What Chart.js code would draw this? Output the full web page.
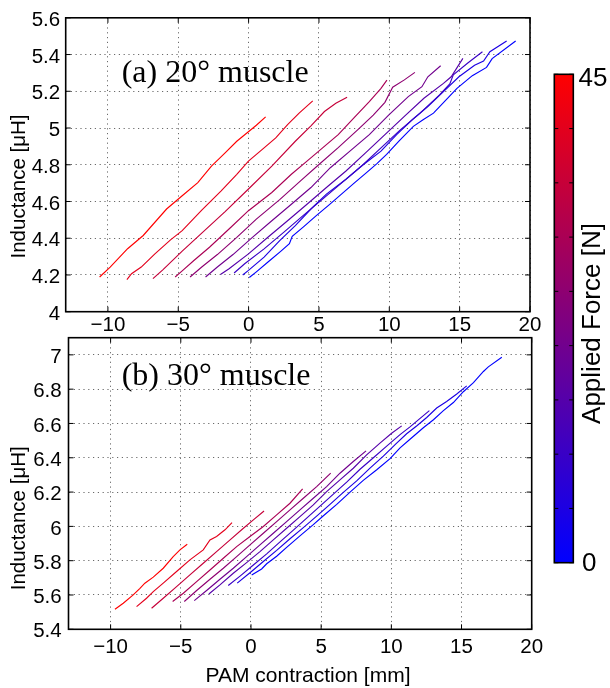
<!DOCTYPE html>
<html><head><meta charset="utf-8">
<script src="https://cdn.jsdelivr.net/npm/chart.js@4"></script>
<style>
html,body{margin:0;padding:0;background:#fff;}
#wrap{position:relative;width:610px;height:688px;overflow:hidden;}
canvas{position:absolute;left:0;top:0;}
</style></head><body>
<div id="wrap">
<canvas id="cA" width="610" height="688"></canvas>
<canvas id="cB" width="610" height="688"></canvas>
<canvas id="cC" width="610" height="688"></canvas>
</div>
<script>
// ---------- data ----------
const forces = [45, 40, 35, 30, 25, 20, 15, 10, 5, 0];
const xTicks = [-10, -5, 0, 5, 10, 15, 20];
const xMin = -13, xMax = 20;
const yTicksA = [4, 4.2, 4.4, 4.6, 4.8, 5, 5.2, 5.4, 5.6];
const yMinA = 4, yMaxA = 5.6;
const yTicksB = [5.4, 5.6, 5.8, 6, 6.2, 6.4, 6.6, 6.8, 7];
const yMinB = 5.4, yMaxB = 7.1;
const cbTicks = [0, 5, 10, 15, 20, 25, 30, 35, 40, 45];
const cbLabels = ['0', '45'];

// (a) 20° muscle : [contraction mm, inductance µH]
const a20_F45 = [[-10.59,4.189],[-9.84,4.243],[-8.60,4.343],[-7.49,4.415],[-5.83,4.559],[-4.72,4.631],[-3.61,4.703],[-2.64,4.793],[-1.67,4.865],[-0.84,4.928],[0.55,5.015],[1.21,5.061]];
const a20_F40 = [[-8.65,4.175],[-8.32,4.207],[-7.63,4.243],[-6.66,4.315],[-5.55,4.391],[-4.72,4.441],[-3.33,4.553],[-1.95,4.658],[-0.84,4.748],[-0.01,4.82],[1.10,4.892],[1.93,4.946],[2.77,5.018],[3.59,5.081],[4.56,5.148]];
const a20_F35 = [[-6.80,4.180],[-6.10,4.228],[-4.72,4.330],[-3.33,4.428],[-1.67,4.545],[-0.01,4.668],[1.65,4.792],[3.32,4.928],[4.43,5.012],[5.39,5.090],[6.20,5.135],[7.00,5.168]];
const a20_F30 = [[-5.22,4.189],[-4.72,4.222],[-3.89,4.279],[-2.78,4.351],[-1.39,4.45],[-0.01,4.55],[1.65,4.649],[3.04,4.748],[4.15,4.82],[5.26,4.892],[6.37,4.964],[7.47,5.054],[8.58,5.144],[9.41,5.216],[9.83,5.261]];
const a20_F25 = [[-4.16,4.189],[-3.33,4.243],[-2.22,4.311],[-0.84,4.405],[0.55,4.504],[2.21,4.610],[3.73,4.715],[4.98,4.800],[6.37,4.893],[7.75,4.990],[8.86,5.070],[9.69,5.140],[10.24,5.222],[11.07,5.262],[11.82,5.303]];
const a20_F20 = [[-3.06,4.189],[-2.22,4.243],[-1.11,4.311],[0.27,4.405],[1.65,4.495],[3.04,4.585],[4.43,4.676],[5.81,4.784],[7.20,4.874],[8.58,4.964],[9.97,5.072],[11.35,5.171],[12.32,5.225],[12.74,5.279],[13.65,5.339]];
const a20_F15 = [[-2.00,4.202],[-1.39,4.234],[-0.01,4.315],[1.37,4.405],[2.77,4.495],[4.15,4.585],[5.53,4.676],[6.92,4.766],[8.31,4.865],[9.69,4.964],[11.07,5.063],[12.46,5.162],[13.85,5.243],[14.40,5.279],[15.23,5.379]];
const a20_F10 = [[-1.03,4.211],[-0.28,4.261],[1.10,4.342],[2.49,4.432],[3.87,4.523],[5.26,4.613],[6.64,4.703],[8.03,4.793],[9.41,4.892],[10.80,4.991],[12.19,5.081],[13.57,5.18],[14.30,5.240],[14.55,5.290],[15.60,5.355],[16.62,5.415]];
const a20_F5  = [[-0.42,4.200],[-0.01,4.225],[1.10,4.297],[2.21,4.387],[3.32,4.469],[4.43,4.559],[5.53,4.64],[6.92,4.721],[8.03,4.793],[9.41,4.874],[10.52,4.964],[11.63,5.045],[12.74,5.117],[13.85,5.198],[14.95,5.279],[16.06,5.342],[16.70,5.365],[17.15,5.415],[18.34,5.474]];
const a20_F0  = [[0.05,4.186],[0.55,4.217],[1.40,4.272],[2.30,4.330],[2.90,4.370],[3.10,4.410],[3.90,4.462],[4.81,4.523],[5.70,4.580],[6.60,4.640],[7.50,4.700],[8.38,4.757],[9.10,4.805],[9.81,4.856],[10.70,4.930],[11.71,5.009],[12.40,5.045],[13.14,5.081],[14.00,5.150],[14.81,5.216],[15.90,5.285],[16.91,5.330],[17.31,5.378],[18.98,5.474]];

// (b) 30° muscle
const b30_F45 = [[-9.69,5.517],[-9.10,5.552],[-8.39,5.601],[-7.91,5.639],[-7.56,5.669],[-6.96,5.704],[-6.25,5.756],[-5.54,5.824],[-5.06,5.863],[-4.54,5.896]];
const b30_F40 = [[-8.15,5.532],[-7.44,5.581],[-6.96,5.62],[-6.25,5.669],[-5.30,5.737],[-4.35,5.805],[-3.40,5.863],[-2.92,5.921],[-2.45,5.941],[-1.85,5.980],[-1.35,6.022]];
const b30_F35 = [[-7.08,5.523],[-6.25,5.581],[-5.30,5.649],[-4.35,5.717],[-3.40,5.785],[-2.45,5.853],[-1.49,5.921],[-0.54,5.989],[0.17,6.038],[0.93,6.090]];
const b30_F30 = [[-5.58,5.562],[-4.82,5.61],[-3.87,5.678],[-2.92,5.746],[-1.97,5.814],[-1.02,5.882],[-0.07,5.941],[0.88,5.999],[1.83,6.067],[2.78,6.135],[3.68,6.219]];
const b30_F25 = [[-4.75,5.562],[-3.87,5.626],[-2.92,5.692],[-1.97,5.756],[-1.02,5.824],[-0.07,5.892],[0.88,5.960],[1.83,6.028],[2.78,6.096],[3.73,6.164],[4.68,6.232],[5.68,6.310]];
const b30_F20 = [[-4.04,5.567],[-3.16,5.626],[-2.21,5.692],[-1.26,5.756],[-0.31,5.824],[0.64,5.892],[1.59,5.960],[2.54,6.028],[3.49,6.096],[4.44,6.164],[5.39,6.232],[6.34,6.31],[7.29,6.378],[8.20,6.440]];
const b30_F15 = [[-3.00,5.606],[-2.21,5.659],[-1.26,5.727],[-0.31,5.789],[0.64,5.853],[1.59,5.921],[2.54,5.989],[3.49,6.057],[4.44,6.125],[5.39,6.203],[6.34,6.271],[7.29,6.339],[8.24,6.417],[9.19,6.485],[10.02,6.543],[10.74,6.586]];
const b30_F10 = [[-1.62,5.655],[-0.78,5.710],[0.17,5.775],[1.12,5.840],[2.07,5.910],[3.02,5.978],[3.97,6.048],[4.92,6.118],[5.87,6.188],[6.82,6.258],[7.77,6.333],[8.72,6.400],[9.67,6.468],[10.62,6.535],[11.33,6.580],[12.05,6.630],[12.71,6.675]];
const b30_F5  = [[-0.98,5.669],[-0.07,5.730],[0.88,5.795],[1.83,5.860],[2.78,5.928],[3.73,5.993],[4.68,6.060],[5.63,6.128],[6.58,6.198],[7.53,6.265],[8.48,6.340],[9.43,6.410],[10.38,6.485],[11.09,6.540],[11.80,6.585],[12.52,6.635],[13.23,6.690],[13.94,6.728],[14.66,6.772],[15.37,6.819]];
const b30_F0  = [[0.05,5.717],[0.76,5.752],[1.12,5.782],[1.83,5.826],[2.54,5.878],[3.49,5.945],[4.44,6.010],[5.16,6.062],[6.11,6.128],[7.06,6.200],[8.00,6.268],[8.96,6.330],[9.91,6.395],[10.62,6.458],[11.33,6.508],[12.28,6.575],[13.00,6.622],[13.71,6.675],[14.42,6.722],[15.13,6.785],[15.85,6.838],[16.56,6.903],[16.91,6.930],[17.87,6.986]];

const curvesA = [a20_F45, a20_F40, a20_F35, a20_F30, a20_F25, a20_F20, a20_F15, a20_F10, a20_F5, a20_F0];
const curvesB = [b30_F45, b30_F40, b30_F35, b30_F30, b30_F25, b30_F20, b30_F15, b30_F10, b30_F5, b30_F0];

// ---------- style ----------
const SANS = '"Liberation Sans", Arial, Helvetica, sans-serif';
const SERIF = '"Liberation Serif", "Times New Roman", serif';
const fMax = 45;
function forceColor(F) {
  const t = F / fMax;
  return 'rgb(' + Math.round(255 * t) + ',0,' + Math.round(255 * (1 - t)) + ')';
}
function fmtX(v) { return v < 0 ? '\u2212' + Math.abs(v) : String(v); }
function fmtY(v) { return String(Number(v.toFixed(1))); }

function framePlugin(o) {
  return {
    id: 'frame' + o.name,
    afterDraw(chart) {
      const ctx = chart.ctx, a = chart.chartArea, x = chart.scales.x, y = chart.scales.y;
      ctx.save();
      ctx.strokeStyle = '#000';
      ctx.lineWidth = 1;
      ctx.beginPath();
      xTicks.forEach(v => {
        const px = x.getPixelForValue(v);
        ctx.moveTo(px, a.bottom); ctx.lineTo(px, a.bottom - 5);
        ctx.moveTo(px, a.top); ctx.lineTo(px, a.top + 5);
      });
      o.yTicks.forEach(v => {
        const py = y.getPixelForValue(v);
        ctx.moveTo(a.left, py); ctx.lineTo(a.left + 5, py);
        ctx.moveTo(a.right, py); ctx.lineTo(a.right - 5, py);
      });
      ctx.stroke();
      ctx.lineWidth = 1.6;
      ctx.strokeRect(a.left, a.top, a.right - a.left, a.bottom - a.top);
      ctx.fillStyle = '#000';
      ctx.font = '32px ' + SERIF;
      ctx.textAlign = 'left'; ctx.textBaseline = 'alphabetic';
      ctx.fillText(o.panel, o.panelX, o.panelY);
      if (o.xTitle) {
        ctx.font = '21px ' + SANS;
        ctx.textAlign = 'center'; ctx.textBaseline = 'middle';
        ctx.fillText(o.xTitle, o.xTitleX, o.xTitleY);
      }
      ctx.font = '20.5px ' + SANS;
      ctx.textAlign = 'center'; ctx.textBaseline = 'middle';
      ctx.translate(o.yTitleX, o.yTitleY);
      ctx.rotate(-Math.PI / 2);
      ctx.fillText(o.yTitle, 0, 0);
      ctx.restore();
    }
  };
}

function makePanel(id, curves, o) {
  return new Chart(document.getElementById(id), {
    type: 'scatter',
    data: {
      datasets: curves.map((pts, i) => ({
        label: forces[i] + ' N',
        data: pts.map(p => ({ x: p[0], y: p[1] })),
        showLine: true,
        borderColor: forceColor(forces[i]),
        backgroundColor: forceColor(forces[i]),
        borderWidth: 1.15,
        pointRadius: 0,
        tension: 0,
        fill: false
      }))
    },
    options: {
      responsive: false, animation: false, events: [],
      layout: { padding: { left: 0, top: o.top, right: 610 - o.right, bottom: o.padBottom } },
      plugins: { legend: { display: false }, tooltip: { enabled: false } },
      scales: {
        x: {
          type: 'linear', min: xMin, max: xMax,
          afterBuildTicks: s => { s.ticks = xTicks.map(v => ({ value: v })); },
          afterFit: s => { s.height = o.xAxisH; },
          grid: { color: 'rgba(90,90,90,0.9)', lineWidth: 1, drawTicks: false },
          border: { display: false, dash: [1.2, 3.6] },
          ticks: { color: '#000', font: { family: SANS, size: 20.5 }, padding: o.xPad, maxRotation: 0, autoSkip: false, callback: v => fmtX(v) }
        },
        y: {
          type: 'linear', min: o.yMin, max: o.yMax,
          afterBuildTicks: s => { s.ticks = o.yTicks.map(v => ({ value: v })); },
          afterFit: s => { s.width = o.left; },
          grid: { color: 'rgba(90,90,90,0.9)', lineWidth: 1, drawTicks: false },
          border: { display: false, dash: [1.2, 3.6] },
          ticks: { color: '#000', font: { family: SANS, size: 20.5 }, padding: o.yPad, labelOffset: 2.5, autoSkip: false, callback: v => fmtY(v) }
        }
      }
    },
    plugins: [framePlugin(o)]
  });
}

makePanel('cA', curvesA, {
  name: 'A', left: 65.7, right: 530, top: 15.7, xAxisH: 30, padBottom: 688 - 311.7 - 30,
  xPad: 1, yPad: 5.5, yMin: yMinA, yMax: yMaxA, yTicks: yTicksA,
  panel: '(a) 20\u00B0 muscle', panelX: 121.7, panelY: 81.7,
  yTitle: 'Inductance [\u03BCH]', yTitleX: 19.3, yTitleY: 186.5
});

makePanel('cB', curvesB, {
  name: 'B', left: 68.5, right: 531.7, top: 337.7, xAxisH: 688 - 629.3, padBottom: 0,
  xPad: 5.5, yPad: 6.8, yMin: yMinB, yMax: yMaxB, yTicks: yTicksB,
  panel: '(b) 30\u00B0 muscle', panelX: 121.7, panelY: 385,
  yTitle: 'Inductance [\u03BCH]', yTitleX: 19.3, yTitleY: 518.3,
  xTitle: 'PAM contraction [mm]', xTitleX: 308, xTitleY: 676.7
});

// ---------- colorbar ----------
const colorbarPlugin = {
  id: 'colorbarFrame',
  afterDraw(chart) {
    const ctx = chart.ctx, a = chart.chartArea, y = chart.scales.y;
    ctx.save();
    ctx.strokeStyle = '#000';
    ctx.lineWidth = 1;
    ctx.beginPath();
    cbTicks.forEach(v => {
      const py = y.getPixelForValue(v);
      ctx.moveTo(a.left, py); ctx.lineTo(a.left + 4, py);
      ctx.moveTo(a.right, py); ctx.lineTo(a.right - 4, py);
    });
    ctx.stroke();
    ctx.lineWidth = 1.6;
    ctx.strokeRect(a.left, a.top, a.right - a.left, a.bottom - a.top);
    ctx.fillStyle = '#000';
    ctx.font = '26px ' + SANS;
    ctx.textAlign = 'left'; ctx.textBaseline = 'middle';
    ctx.fillText(cbLabels[1], 578.5, y.getPixelForValue(fMax) + 4.5);
    ctx.fillText(cbLabels[0], 582, y.getPixelForValue(0) + 1);
    ctx.textAlign = 'center'; ctx.textBaseline = 'alphabetic';
    ctx.translate(600.3, 323.5);
    ctx.rotate(-Math.PI / 2);
    ctx.fillText('Applied Force [N]', 0, 0);
    ctx.restore();
  }
};

new Chart(document.getElementById('cC'), {
  type: 'bar',
  data: {
    labels: ['Applied Force'],
    datasets: [{
      data: [fMax],
      backgroundColor: c => {
        const a = c.chart.chartArea;
        if (!a) return 'rgb(128,0,128)';
        const g = c.chart.ctx.createLinearGradient(0, a.bottom, 0, a.top);
        g.addColorStop(0, forceColor(0));
        g.addColorStop(1, forceColor(fMax));
        return g;
      },
      borderWidth: 0,
      barPercentage: 1,
      categoryPercentage: 1
    }]
  },
  options: {
    responsive: false, animation: false, events: [],
    layout: { padding: { left: 554.3, right: 610 - 573.3, top: 74.3, bottom: 688 - 562.7 } },
    plugins: { legend: { display: false }, tooltip: { enabled: false } },
    scales: {
      x: { display: false },
      y: { display: false, min: 0, max: fMax }
    }
  },
  plugins: [colorbarPlugin]
});
</script>
</body></html>
